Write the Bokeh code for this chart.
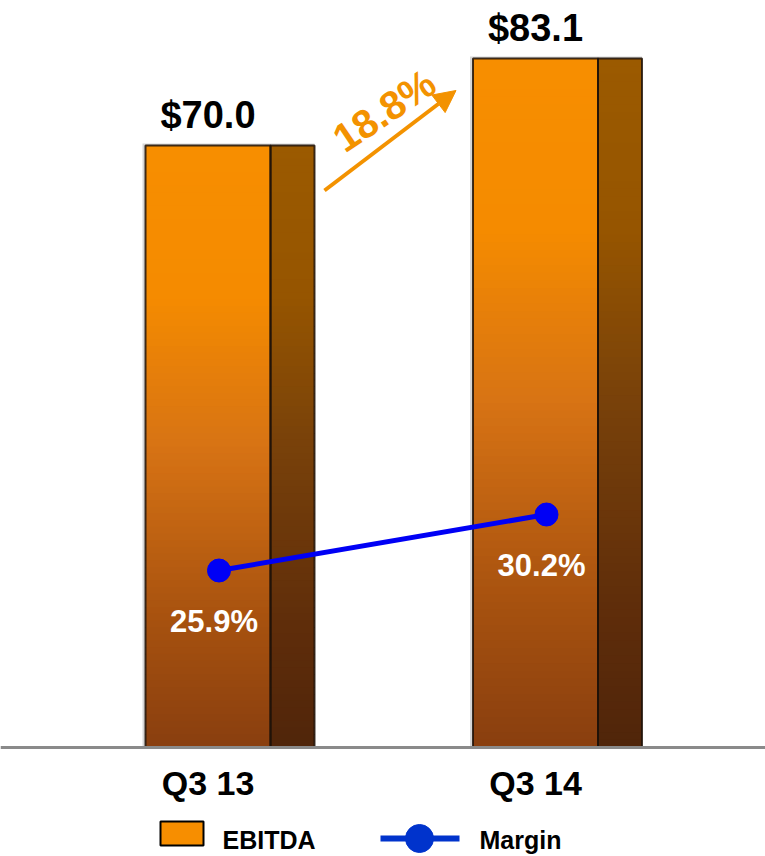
import numpy as np
from bokeh.plotting import figure
from bokeh.models import Range1d, Span, Arrow, NormalHead, ColumnDataSource
from bokeh.core.properties import value
from bokeh.embed import file_html
from bokeh.resources import INLINE

# ---------------- data ----------------
categories = ["Q3 13", "Q3 14"]
ebitda = [70.0, 83.1]
ebitda_labels = ["$70.0", "$83.1"]
margin = [25.9, 30.2]
margin_labels = ["25.9%", "30.2%"]
growth_label = "18.8%"
legend_labels = ["EBITDA", "Margin"]

# ---------------- layout constants ----------------
W, H = 765, 856
XS = 327.5      # px per x unit
X0 = 207.5      # canvas px of x = 0
YS = 6.641      # px per EBITDA unit
BASE = -20.65   # value at baseline
BASE_PX = 747   # canvas px of baseline (from top)
MS = 13.02      # px per margin unit
M_PX = 570      # canvas px of first margin value
FONT = "Liberation Sans"
ORANGE = "#F39200"


def dx(px):
    return px / XS


def dy(px):
    return px / YS


def xd(px):
    return (px - X0) / XS


def yd(py):
    return BASE + (BASE_PX - py) / YS


p = figure(width=W, height=H, output_backend="svg", toolbar_location=None,
           x_range=Range1d(xd(0), xd(W)), y_range=Range1d(yd(H), yd(0)),
           min_border=0, outline_line_color=None)
p.extra_y_ranges = {"margin": Range1d(margin[0] - (H - M_PX) / MS,
                                      margin[0] + M_PX / MS)}
p.axis.visible = False
p.grid.visible = False
p.background_fill_color = "white"
p.border_fill_color = "white"

FW = dx(125)   # front face width
SW = dx(44)    # side face width

# gradient colour stops (t: 0 = top of bar, 1 = bottom)
t_stops = [0.0, 0.25, 0.5, 0.8, 1.0]
front_rgb = [(247, 142, 0), (245, 139, 0), (215, 115, 20), (165, 80, 15), (137, 63, 15)]
side_rgb = [(155, 90, 0), (150, 85, 0), (120, 65, 10), (95, 45, 10), (80, 37, 10)]


def grad(stops, t):
    r = np.interp(t, t_stops, [c[0] for c in stops])
    g = np.interp(t, t_stops, [c[1] for c in stops])
    b = np.interp(t, t_stops, [c[2] for c in stops])
    return "#%02x%02x%02x" % (int(round(r)), int(round(g)), int(round(b)))


N = 90
sl = dict(left=[], right=[], top=[], bottom=[], color=[])
shadow = dict(left=[], right=[], top=[], bottom=[])
outline = dict(left=[], right=[], top=[], bottom=[])
for i, v in enumerate(ebitda):
    edges = BASE + (v - BASE) * np.linspace(1, 0, N + 1)
    fl, fr = i - FW / 2, i + FW / 2
    sr = fr + SW
    shadow["left"].append(fl - dx(3)); shadow["right"].append(sr)
    shadow["top"].append(v + dy(2)); shadow["bottom"].append(BASE)
    for k in range(N):
        t = (k + 0.5) / N
        top, bot = edges[k], edges[k + 1] - (0.12 if k < N - 1 else 0)
        sl["left"] += [fl, fr]
        sl["right"] += [fr, sr]
        sl["top"] += [top, top]
        sl["bottom"] += [bot, bot]
        sl["color"] += [grad(front_rgb, t), grad(side_rgb, t)]
    outline["left"] += [fl, fr]
    outline["right"] += [fr, sr]
    outline["top"] += [v, v]
    outline["bottom"] += [BASE, BASE]

p.quad(source=ColumnDataSource(shadow), left="left", right="right", top="top",
       bottom="bottom", fill_color="#b0b0b0", fill_alpha=0.5, line_color=None)
p.quad(source=ColumnDataSource(sl), left="left", right="right", top="top",
       bottom="bottom", fill_color="color", line_color=None)
p.quad(source=ColumnDataSource(outline), left="left", right="right", top="top",
       bottom="bottom", fill_alpha=0, line_color="#1e1208", line_alpha=0.85,
       line_width=2)

# baseline
p.add_layout(Span(location=BASE, dimension="width", line_color="#8a8a8a",
                  line_width=3))

# value labels
xs = list(range(len(categories)))
p.text(x=xs, y=ebitda, text=ebitda_labels, text_align="center",
       text_baseline="alphabetic", y_offset=-30, text_font=value(FONT),
       text_font_style="bold", text_font_size="38px", text_color="black")

# category labels
p.text(x=xs, y=[yd(782)] * len(xs), text=categories, text_align="center",
       text_baseline="middle", text_font=value(FONT), text_font_style="bold",
       text_font_size="34px", text_color="black")

# margin line
MOFF = dx(11)
mx = [x + MOFF for x in xs]
p.line(x=mx, y=margin, y_range_name="margin", line_color="#0000F5",
       line_width=5)
p.scatter(x=mx, y=margin, y_range_name="margin", size=23,
          fill_color="#0000F5", line_color="#0000F5")
p.text(x=[x - dx(5) for x in mx], y=margin, text=margin_labels,
       y_range_name="margin", y_offset=51, text_align="center",
       text_baseline="middle", text_font=value(FONT), text_font_style="bold",
       text_font_size="31px", text_color="white")

# growth arrow
ax0 = 0 + FW / 2 + SW + dx(10)
ay0 = ebitda[0] - dy(45)
ax1 = 1 - FW / 2 - dx(17)
ay1 = ebitda[1] - dy(32)
p.add_layout(Arrow(end=NormalHead(size=22, fill_color=ORANGE, line_color=ORANGE),
                   x_start=ax0, y_start=ay0, x_end=ax1, y_end=ay1,
                   line_color=ORANGE, line_width=4))
p.text(x=[(ax0 + ax1) / 2], y=[(ay0 + ay1) / 2], text=[growth_label],
       x_offset=-6, y_offset=-30, angle=34, angle_units="deg",
       text_align="center", text_baseline="middle", text_font=value(FONT),
       text_font_style="bold", text_font_size="40px", text_color=ORANGE)

# legend (drawn manually)
p.quad(left=[xd(160)], right=[xd(203)], top=[yd(821)], bottom=[yd(845)],
       fill_color="#F78E00", line_color="black", line_width=2)
p.line(x=[xd(380), xd(459)], y=[yd(838), yd(838)], line_color="#0033CC",
       line_width=6)
p.scatter(x=[xd(419)], y=[yd(838)], size=28, fill_color="#0033CC",
          line_color="#0033CC")
p.text(x=[xd(222), xd(479)], y=[yd(839), yd(839)], text=legend_labels,
       text_align="left", text_baseline="middle", text_font=value(FONT),
       text_font_style="bold", text_font_size="25px", text_color="black")

open("out.html", "w").write(file_html(p, INLINE))
